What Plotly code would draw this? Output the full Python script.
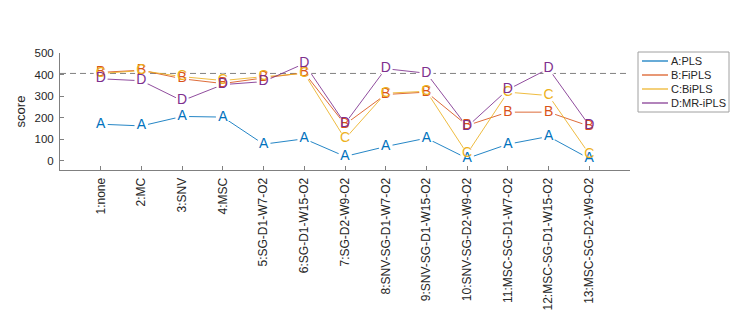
import plotly.graph_objects as go

categories = ["1:none", "2:MC", "3:SNV", "4:MSC", "5:SG-D1-W7-O2", "6:SG-D1-W15-O2",
              "7:SG-D2-W9-O2", "8:SNV-SG-D1-W7-O2", "9:SNV-SG-D1-W15-O2",
              "10:SNV-SG-D2-W9-O2", "11:MSC-SG-D1-W7-O2", "12:MSC-SG-D1-W15-O2",
              "13:MSC-SG-D2-W9-O2"]
x_pos = list(range(1, 14))

pls = [169, 161, 205, 202, 76, 101, 19, 65, 104, 10, 76, 112, 9]
fipls = [410, 420, 380, 358, 384, 408, 168, 307, 318, 163, 225, 225, 160]
bipls = [405, 418, 390, 372, 390, 405, 101, 313, 322, 32, 318, 302, 30]
mripls = [380, 371, 278, 353, 367, 451, 172, 427, 406, 157, 330, 427, 163]
threshold = 405

series_names = ["A:PLS", "B:FiPLS", "C:BiPLS", "D:MR-iPLS"]
letters = ["A", "B", "C", "D"]
series = [pls, fipls, bipls, mripls]
colors = ["#0072BD", "#D95319", "#EDB120", "#7E2F8E"]

FONT = "Liberation Sans, Arial, sans-serif"
W, H = 742, 325
ML, MR, MT, MB = 60, 112, 53, 155
PW, PH = W - ML - MR, H - MT - MB


def px(xp):
    return (xp - ML) / PW


def py(yp):
    return (H - MB - yp) / PH


fig = go.Figure()
for name, ys, c in zip(series_names, series, colors):
    fig.add_trace(go.Scatter(x=x_pos, y=ys, mode="lines", name=name, showlegend=False,
                             line=dict(color=c, width=1), opacity=0.85))
for ys in series:
    fig.add_trace(go.Scatter(x=x_pos, y=ys, mode="markers", showlegend=False,
                             marker=dict(color="white", size=14, line=dict(width=0)),
                             hoverinfo="skip"))
for L, ys, c in zip(letters, series, colors):
    fig.add_trace(go.Scatter(x=x_pos, y=ys, mode="text", showlegend=False,
                             text=[L] * len(ys), textposition="middle center",
                             textfont=dict(color=c, size=14, family=FONT)))

fig.add_shape(type="line", xref="x", yref="y", x0=0, x1=14, y0=threshold, y1=threshold,
              line=dict(color="#808080", width=1, dash="6px,4px"), layer="below")

# legend drawn manually (MATLAB-style compact box)
fig.add_shape(type="rect", xref="paper", yref="paper",
              x0=px(638), x1=px(729), y0=py(112), y1=py(52),
              line=dict(color="#a0a0a0", width=1), fillcolor="white", layer="above")
for i, (name, c) in enumerate(zip(series_names, colors)):
    yy = 61 + 14 * i
    fig.add_shape(type="line", xref="paper", yref="paper",
                  x0=px(642), x1=px(668), y0=py(yy), y1=py(yy),
                  line=dict(color=c, width=1.2), layer="above")
    fig.add_annotation(x=px(669), y=py(yy), xref="paper", yref="paper", text=name,
                       showarrow=False, xanchor="left", yanchor="middle",
                       font=dict(size=11, color="#262626", family=FONT))

fig.update_layout(
    width=W, height=H,
    margin=dict(l=ML, r=MR, t=MT, b=MB),
    paper_bgcolor="white", plot_bgcolor="white",
    font=dict(family=FONT, size=11, color="#262626"),
    showlegend=False,
)
fig.update_xaxes(range=[0, 14], tickmode="array", tickvals=x_pos, ticktext=categories,
                 tickangle=-90, ticks="inside", ticklen=4, tickcolor="#808080",
                 showline=True, linecolor="#808080", linewidth=1, showgrid=False,
                 zeroline=False, tickfont=dict(size=12, color="#262626"),
                 ticklabelstandoff=2)
fig.update_yaxes(range=[-44, 500], tickvals=[0, 100, 200, 300, 400, 500],
                 ticks="inside", ticklen=4, tickcolor="#808080",
                 showline=True, linecolor="#808080", linewidth=1, showgrid=False,
                 zeroline=False,
                 title=dict(text="score", font=dict(size=13, color="#262626"), standoff=5),
                 tickfont=dict(size=11.5, color="#262626"), ticklabelstandoff=3)

fig.write_html("out.html")
